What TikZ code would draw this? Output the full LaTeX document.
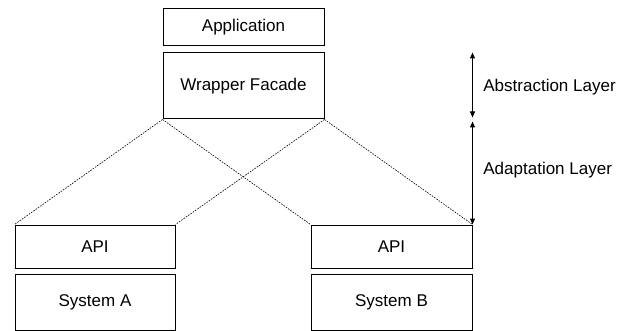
\documentclass[tikz,border=0pt]{standalone}
\usepackage{fontspec}
\setmainfont{Liberation Sans}
\usepackage{tikz}
\usetikzlibrary{arrows.meta,positioning,calc}

\begin{document}
\begin{tikzpicture}[
    x=0.5pt, y=-0.5pt,
    layer/.style={draw, line width=0.5pt, minimum width=80.5pt, inner sep=0pt, align=center, font=\fontsize{8.5}{10}\selectfont},
    lbl/.style={anchor=west, inner sep=0pt, font=\fontsize{8.5}{10}\selectfont},
    link/.style={line width=0.3pt, dash pattern=on 0.8pt off 0.6pt},
    span/.style={{Triangle[length=3pt,width=2.5pt]}-{Triangle[length=3pt,width=2.5pt]}, line width=0.5pt}
]
\useasboundingbox (0,0) rectangle (630,331);

\node[layer, minimum height=18.5pt] (app) at (243.5,27.5) {Application};
\node[layer, minimum height=33pt] (wrap) at (243.5,86) {Wrapper Facade};
\node[layer, minimum width=80pt, minimum height=21.5pt] (apiA) at (95,246.5) {API};
\node[layer, minimum width=80pt, minimum height=28pt] (sysA) at (95,302) {System A};
\node[layer, minimum height=21.5pt] (apiB) at (391.5,246.5) {API};
\node[layer, minimum height=28pt] (sysB) at (391.5,302) {System B};

% facade fans out to both platform APIs
\draw[link] (wrap.south west) -- (apiA.north west);
\draw[link] (wrap.south west) -- (apiB.north west);
\draw[link] (wrap.south east) -- (apiA.north east);
\draw[link] (wrap.south east) -- (apiB.north east);

% layer extents
\coordinate (top) at (apiB.east |- wrap.north);
\coordinate (mid) at (apiB.east |- wrap.south);
\coordinate (bot) at (apiB.north east);
\draw[span] (top) -- ([yshift=1pt]mid);
\draw[span] ([yshift=-1pt]mid) -- (bot);

\node[lbl] (abs) at (483,87) {Abstraction Layer};
\node[lbl] (ada) at (483,170) {Adaptation Layer};
\end{tikzpicture}
\end{document}
